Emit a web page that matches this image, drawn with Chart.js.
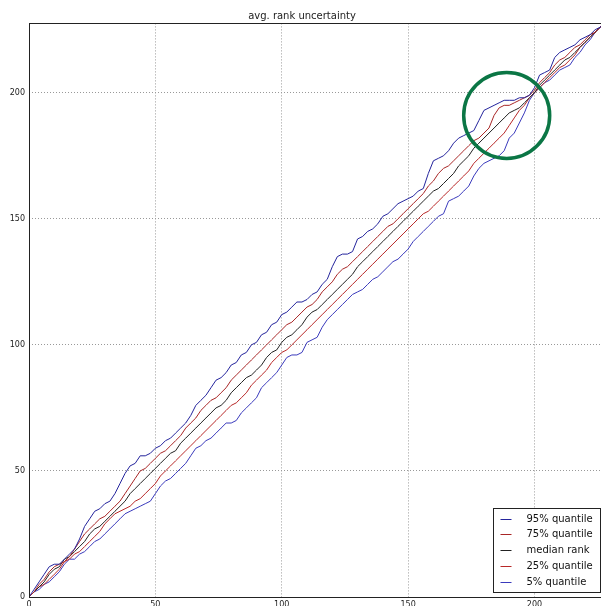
<!DOCTYPE html>
<html><head><meta charset="utf-8">
<script src="https://cdn.jsdelivr.net/npm/chart.js@4.4.1/dist/chart.umd.min.js"></script>
<style>
html,body{margin:0;padding:0;overflow:hidden;background:#fff}
#c{position:absolute;left:0;top:0;display:block}
</style>
</head><body>
<canvas id="c" width="606" height="612" style="width:606px;height:612px"></canvas>
<script>
const chartTitle = 'avg. rank uncertainty';
const seriesLabels = ['95% quantile', '75% quantile', 'median rank', '25% quantile', '5% quantile'];
const ranks = [0,2,4,6,8,10,12,14,16,18,20,22,24,26,28,30,32,34,36,38,40,42,44,46,48,50,52,54,56,58,60,62,64,66,68,70,72,74,76,78,80,82,84,86,88,90,92,94,96,98,100,102,104,106,108,110,112,114,116,118,120,122,124,126,128,130,132,134,136,138,140,142,144,146,148,150,152,154,156,158,160,162,164,166,168,170,172,174,176,178,180,182,184,186,188,190,192,194,196,198,200,202,204,206,208,210,212,214,216,218,220,222,224,226,227];
const q95 = [0,3,6,9,12,13,13,15,17,19,
  23,28,31,34,35,37,38,41,45,49,
  52,53,56,56,57,59,60,62,63,65,
  67,69,72,76,78,80,83,86,87,89,
  92,93,96,97,100,101,104,105,108,109,
  112,113,115,117,117,118,120,121,124,126,
  131,135,136,136,137,142,143,145,146,148,
  151,152,154,156,157,158,159,161,162,168,
  173,174,175,177,180,182,183,184,185,189,
  193,194,195,196,197,197,197,198,198,199,
  202,207,208,209,214,216,217,218,219,221,
  222,223,225,226,227];
const q75 = [0,2,5,7,10,12,13,14,16,19,
  22,25,27,29,31,32,34,36,38,41,
  44,47,50,51,53,55,57,58,60,62,
  64,67,69,71,74,76,78,79,81,83,
  86,88,90,92,94,96,98,100,102,104,
  106,108,109,111,113,115,116,118,121,123,
  125,128,130,131,133,135,137,139,141,143,
  145,147,148,150,152,154,156,158,160,163,
  165,168,170,171,173,175,177,179,181,182,
  184,186,191,194,195,195,196,197,198,199,
  201,204,206,208,211,213,214,216,218,219,
  221,223,224,226,227];
const qMedian = [0,2,4,6,9,11,12,15,16,18,
  20,22,25,27,28,30,32,34,36,38,
  41,43,45,47,49,51,53,55,57,58,
  61,63,65,67,69,71,73,75,76,78,
  81,83,85,87,88,90,92,95,97,98,
  101,103,104,106,108,111,113,114,116,118,
  120,122,124,126,128,131,133,135,137,139,
  141,143,145,147,149,151,153,155,157,159,
  161,162,164,166,168,171,173,175,178,180,
  182,184,186,188,190,192,193,194,196,198,
  200,203,205,207,209,211,213,214,216,218,
  220,222,224,226,227];
const q25 = [0,2,4,5,7,9,11,14,15,17,
  18,20,22,24,26,29,31,33,34,35,
  36,38,39,41,43,45,48,50,52,54,
  56,58,60,62,64,66,68,70,72,74,
  76,77,79,81,84,86,88,90,93,95,
  97,98,100,102,104,106,108,110,112,114,
  116,118,120,122,124,126,128,130,132,134,
  136,138,140,142,144,146,148,150,152,153,
  155,157,159,161,163,165,167,169,172,174,
  176,178,180,182,184,187,190,193,195,198,
  200,202,204,206,208,210,211,213,215,218,
  220,222,224,226,227];
const q5 = [0,2,3,5,6,8,10,13,15,15,
  17,18,20,22,23,25,27,29,31,33,
  34,35,36,37,38,41,44,46,47,49,
  51,53,56,59,60,62,63,65,67,69,
  69,70,73,75,77,79,83,85,87,89,
  92,95,96,96,97,101,102,103,107,110,
  112,114,116,118,120,121,122,124,126,127,
  129,131,133,134,136,138,141,143,145,147,
  149,151,152,157,158,159,161,163,167,170,
  172,173,174,175,177,182,184,188,192,197,
  200,202,204,205,207,209,210,211,214,216,
  219,221,224,226,227];
const circleX = [189];
const circleY = [191];
const tickValues = [0, 50, 100, 150, 200];

const seriesValues = [q95, q75, qMedian, q25, q5];
const seriesColors = ['#24249c', '#a82626', '#222222', '#b82828', '#3a3abc'];

const datasets = [{
  label: 'highlight',
  data: circleX.map((x, i) => ({x: x, y: circleY[i]})),
  showLine: false,
  pointRadius: 43,
  pointHoverRadius: 43,
  pointStyle: 'circle',
  borderColor: '#0b7645',
  backgroundColor: 'rgba(0,0,0,0)',
  borderWidth: 3.5,
  clip: false,
  order: -1
}];
seriesValues.forEach((vals, s) => {
  datasets.push({
    label: seriesLabels[s],
    data: ranks.map((x, i) => ({x: x, y: vals[i]})),
    showLine: true,
    pointRadius: 0,
    borderWidth: 1,
    borderColor: seriesColors[s],
    backgroundColor: seriesColors[s],
    tension: 0,
    fill: false
  });
});

const FONT = "'DejaVu Sans', 'Liberation Sans', sans-serif";

const framePlugin = {
  id: 'frame',
  afterDatasetsDraw(chart) {
    const ctx = chart.ctx, ca = chart.chartArea;
    ctx.save();
    ctx.strokeStyle = '#222';
    ctx.lineWidth = 1;
    ctx.strokeRect(Math.round(ca.left) + 0.5, Math.round(ca.top) + 0.5,
      Math.round(ca.right) - Math.round(ca.left), Math.round(ca.bottom) - Math.round(ca.top));
    const bR = 600.5;
    const bB = Math.round(ca.bottom) - 5 + 0.5;
    const bW = 107, bH = 84;
    const bL = bR - bW, bT = bB - bH;
    ctx.fillStyle = '#fff';
    ctx.fillRect(bL, bT, bW, bH);
    ctx.strokeStyle = '#222';
    ctx.strokeRect(bL, bT, bW, bH);
    ctx.font = '10px ' + FONT;
    ctx.textBaseline = 'middle';
    ctx.textAlign = 'left';
    const items = chart.data.datasets.filter(d => d.label !== 'highlight');
    items.forEach((d, i) => {
      const y = Math.round(bT + 10 + i * 15.75) + 0.5;
      ctx.strokeStyle = d.borderColor;
      ctx.lineWidth = 1;
      ctx.beginPath();
      ctx.moveTo(bL + 7, y);
      ctx.lineTo(bL + 18, y);
      ctx.stroke();
      ctx.fillStyle = '#111';
      ctx.fillText(d.label, bL + 33, y);
    });
    ctx.restore();
  }
};

const gridColor = ctx => (ctx.tick && ctx.tick.value === 0) ? 'rgba(0,0,0,0)' : '#999';

new Chart(document.getElementById('c'), {
  type: 'scatter',
  data: { datasets: datasets },
  options: {
    responsive: false,
    animation: false,
    devicePixelRatio: 1,
    layout: { autoPadding: false, padding: { left: 0, right: 2, top: 0, bottom: 0 } },
    plugins: {
      legend: { display: false },
      tooltip: { enabled: false },
      title: {
        display: true, text: chartTitle, color: '#222',
        font: { family: FONT, size: 10, weight: 'normal', lineHeight: 1.2 },
        padding: { top: 10, bottom: 1.4 }
      }
    },
    scales: {
      x: {
        type: 'linear', min: 0, max: 227.5,
        afterFit(s) { s.height = 15; },
        afterBuildTicks(s) { s.ticks = tickValues.map(v => ({value: v})); },
        ticks: { font: { family: FONT, size: 8 }, color: '#222', padding: 3, maxRotation: 0, autoSkip: false },
        grid: { color: gridColor, lineWidth: 1, drawTicks: false },
        border: { display: false, dash: [1, 2] }
      },
      y: {
        type: 'linear', min: 0, max: 227.5,
        afterFit(s) { s.width = 29; },
        afterBuildTicks(s) { s.ticks = tickValues.map(v => ({value: v})); },
        ticks: { font: { family: FONT, size: 8 }, color: '#222', padding: 4, autoSkip: false },
        grid: { color: gridColor, lineWidth: 1, drawTicks: false },
        border: { display: false, dash: [1, 2] }
      }
    }
  },
  plugins: [framePlugin]
});
</script>
</body></html>
